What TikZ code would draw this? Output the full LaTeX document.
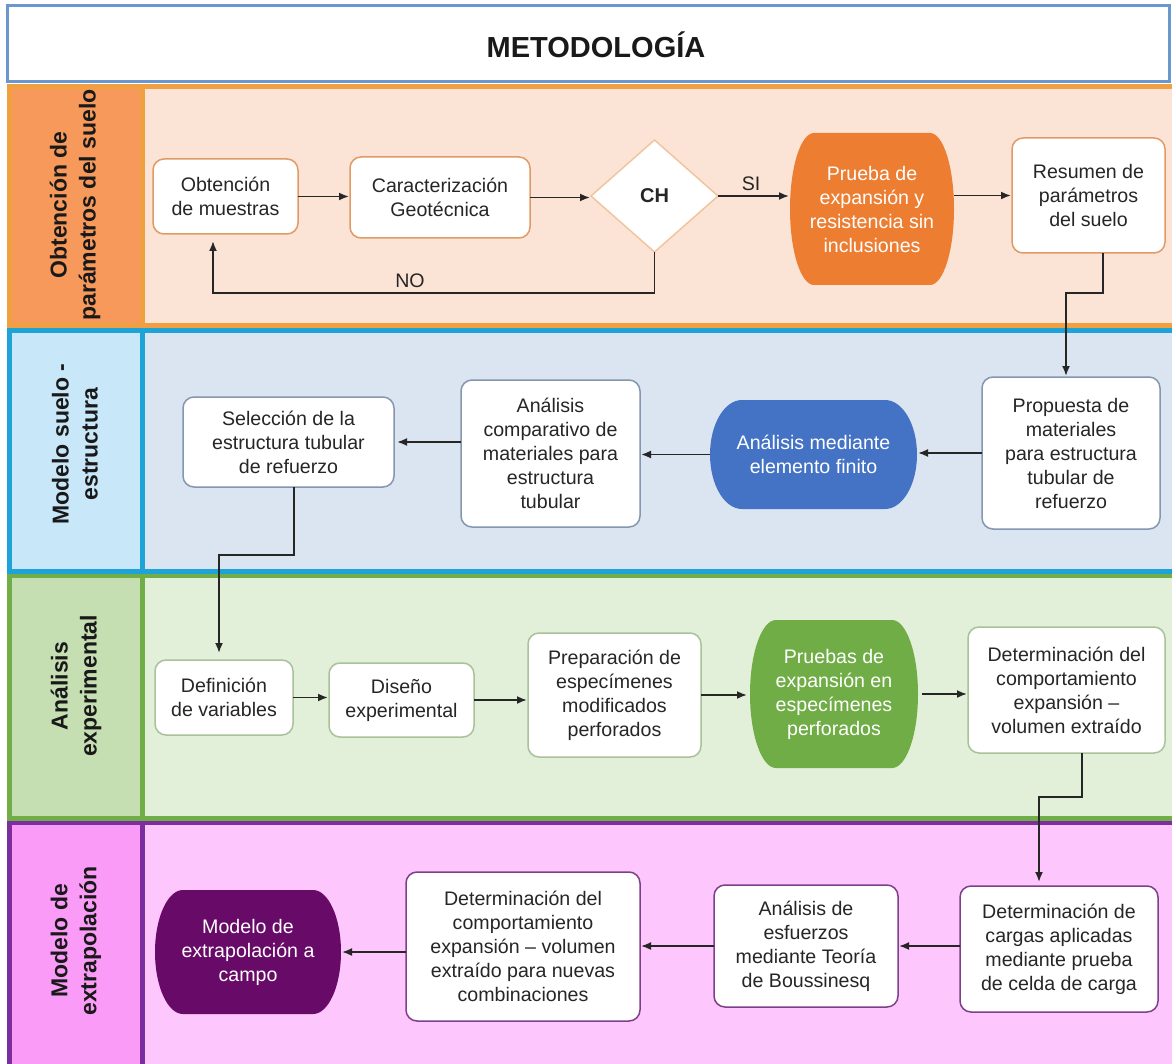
\documentclass[tikz,border=0pt]{standalone}
\usepackage{fontspec}
\setmainfont{Liberation Sans}
\usetikzlibrary{shapes.geometric,arrows.meta,calc}
\pgfdeclarelayer{lanes}
\pgfdeclarelayer{background}
\pgfsetlayers{lanes,background,main}
\definecolor{hdr}{HTML}{6A97CC}
\definecolor{oBord}{HTML}{F0A040}
\definecolor{oLbl}{HTML}{F8995C}
\definecolor{oBg}{HTML}{FBE4D5}
\definecolor{bBord}{HTML}{1EA3D8}
\definecolor{bLbl}{HTML}{C8E7F8}
\definecolor{bBg}{HTML}{DBE5F1}
\definecolor{gBord}{HTML}{72AE47}
\definecolor{gLbl}{HTML}{C5DFB3}
\definecolor{gBg}{HTML}{E2EFD9}
\definecolor{pBord}{HTML}{7C2E9E}
\definecolor{pLbl}{HTML}{F99BF7}
\definecolor{pBg}{HTML}{FDC6FC}
\definecolor{oNode}{HTML}{ED7D31}
\definecolor{bNode}{HTML}{4472C4}
\definecolor{gNode}{HTML}{70AD47}
\definecolor{pNode}{HTML}{680A68}
\definecolor{oEdge}{HTML}{E09A66}
\definecolor{dEdge}{HTML}{F2C4A0}
\definecolor{bEdge}{HTML}{8496B0}
\definecolor{gEdge}{HTML}{A9C29A}
\definecolor{pEdge}{HTML}{7E3F8A}
\definecolor{bodytxt}{HTML}{262626}
\newcommand\mylane[5]{%
  \fill[#5] (9,#1) rectangle (1180,#2);
  \fill[#4] (9,#1) rectangle (142.5,#2);
  \draw[#3,line width=5pt] (9,#1) rectangle (1180,#2);
  \draw[#3,line width=5pt] (142.5,#1) -- (142.5,#2);
}
\newcommand\barrelfill[3]{%
  \begin{pgfonlayer}{background}
  \fill[#2] let \p1=(#1.north west), \p2=(#1.south east), \n1={(\y1-\y2)/2} in
    (\x1+#3pt,\y1) -- (\x2-#3pt,\y1)
    arc[start angle=90,end angle=-90,x radius=#3pt,y radius=\n1]
    -- (\x1+#3pt,\y2)
    arc[start angle=270,end angle=90,x radius=#3pt,y radius=\n1] -- cycle;
  \end{pgfonlayer}}
\begin{document}
\begin{tikzpicture}[x=1pt,y=-1pt,
  txt/.style={font=\fontsize{19.6}{24}\selectfont, align=center, inner sep=0pt, outer sep=0pt},
  wbox/.style={txt, rectangle, rounded corners=11pt, fill=white, line width=1.5pt, text=bodytxt},
  cbox/.style={txt, rectangle, text=white},
  lanelbl/.style={font=\fontsize{23}{29}\selectfont\bfseries, align=center, rotate=90, text=black!90, inner sep=0pt},
  arr/.style={-{Latex[length=10pt,width=8pt]}, line width=1.8pt, draw=black!85, shorten >=1pt},
  lbl/.style={font=\fontsize{19.6}{24}\selectfont, text=bodytxt, inner sep=0pt},
]
\useasboundingbox (0,0) rectangle (1172,1064);
\clip (0,0) rectangle (1172,1064);
\begin{pgfonlayer}{lanes}
\fill[white] (0,0) rectangle (1172,1064);
\mylane{822}{1075}{pBord}{pLbl}{pBg}
\mylane{575.5}{818}{gBord}{gLbl}{gBg}
\mylane{331}{571}{bBord}{bLbl}{bBg}
\mylane{86.5}{326}{oBord}{oLbl}{oBg}
\draw[hdr,line width=3pt,fill=white] (7,5.5) rectangle (1169.5,81.5);
\end{pgfonlayer}

% title and lane labels
\node[font=\fontsize{29}{34}\selectfont\bfseries, text=black!90] (title) at (596,45) {METODOLOGÍA};
\node[lanelbl] (L1) at (75,205) {Obtención de\\parámetros del suelo};
\node[lanelbl] (L2) at (75,444) {Modelo suelo -\\estructura};
\node[lanelbl] (L3) at (76,686) {Análisis\\experimental};
\node[lanelbl] (L4) at (76,941) {Modelo de\\extrapolación};

% lane 1
\node[wbox, draw=oEdge, minimum width=145pt, minimum height=75pt] (n1) at (225.5,196.5) {Obtención\\de muestras};
\node[wbox, draw=oEdge, minimum width=180pt, minimum height=81pt] (n2) at (440,197.5) {Caracterización\\Geotécnica};
\node[diamond, draw=dEdge, fill=white, line width=1.5pt, minimum width=127pt, minimum height=112pt, inner sep=0pt, outer sep=0pt,
  font=\fontsize{20}{24}\selectfont\bfseries, text=bodytxt] (ch) at (654.5,196) {CH};
\node[cbox, minimum width=164pt, minimum height=152pt] (pr) at (872,209) {Prueba de\\expansión y\\resistencia sin\\inclusiones};
\barrelfill{pr}{oNode}{24}
\node[wbox, draw=oEdge, minimum width=153pt, minimum height=115pt] (n4) at (1088.5,195.5) {Resumen de\\parámetros\\del suelo};

% lane 2
\node[wbox, draw=bEdge, minimum width=211pt, minimum height=90pt] (s1) at (288.5,442) {Selección de la\\estructura tubular\\de refuerzo};
\node[wbox, draw=bEdge, minimum width=179pt, minimum height=147pt] (s2) at (550.5,453.5) {Análisis\\comparativo de\\materiales para\\estructura\\tubular};
\node[cbox, minimum width=207pt, minimum height=109pt] (s3) at (813.5,454.5) {Análisis mediante\\elemento finito};
\barrelfill{s3}{bNode}{32}
\node[wbox, draw=bEdge, minimum width=178pt, minimum height=152pt] (s4) at (1071,453) {Propuesta de\\materiales\\para estructura\\tubular de\\refuerzo};

% lane 3
\node[wbox, draw=gEdge, minimum width=138pt, minimum height=75pt] (e1) at (224,697.5) {Definición\\de variables};
\node[wbox, draw=gEdge, minimum width=145pt, minimum height=74pt] (e2) at (401.5,700) {Diseño\\experimental};
\node[wbox, draw=gEdge, minimum width=173pt, minimum height=124pt] (e3) at (614.5,695) {Preparación de\\especímenes\\modificados\\perforados};
\node[cbox, minimum width=168pt, minimum height=148pt] (e4) at (834,694) {Pruebas de\\expansión en\\especímenes\\perforados};
\barrelfill{e4}{gNode}{26}
\node[wbox, draw=gEdge, minimum width=197pt, minimum height=126pt] (e5) at (1066.5,690) {Determinación del\\comportamiento\\expansión –\\volumen extraído};

% lane 4
\node[cbox, minimum width=186pt, minimum height=124pt] (m1) at (248,952) {Modelo de\\extrapolación a\\campo};
\barrelfill{m1}{pNode}{28}
\node[wbox, draw=pEdge, minimum width=234pt, minimum height=149pt] (m2) at (523,946.5) {Determinación del\\comportamiento\\expansión – volumen\\extraído para nuevas\\combinaciones};
\node[wbox, draw=pEdge, minimum width=184pt, minimum height=122pt] (m3) at (806,946) {Análisis de\\esfuerzos\\mediante Teoría\\de Boussinesq};
\node[wbox, draw=pEdge, minimum width=198pt, minimum height=126pt] (m4) at (1059,949) {Determinación de\\cargas aplicadas\\mediante prueba\\de celda de carga};

% connectors lane 1
\draw[arr] (n1.east) -- (n1.east -| n2.west);
\draw[arr] (n2.east) -- (n2.east -| ch.west);
\draw[arr] (ch.east) -- (ch.east -| pr.west);
\node[lbl] (si) at (751,184) {SI};
\draw[arr] (n4.west -| pr.east) -- (n4.west);
\coordinate (noc) at ($(ch.south)+(0,41)$);
\draw[arr, shorten >=7pt] (ch.south) -- (noc) -| ([xshift=-12.5pt]n1.south);
\node[lbl] (no) at (410,281) {NO};
\coordinate (c1) at ($([xshift=14.5pt]n4.south)+(0,40)$);
\draw[arr] ([xshift=14.5pt]n4.south) -- (c1) -| ([xshift=-5pt]s4.north);

% connectors lane 2
\draw[arr] (s4.west) -- (s4.west -| s3.east);
\draw[arr] (s3.west) -- (s3.west -| s2.east);
\draw[arr, shorten >=3pt] (s1.east -| s2.west) -- (s1.east);
\coordinate (c2) at ($([xshift=5.5pt]s1.south)+(0,68)$);
\draw[arr, shorten >=7pt] ([xshift=5.5pt]s1.south) -- (c2) -| ([xshift=-5pt]e1.north);

% connectors lane 3
\draw[arr] (e1.east) -- (e1.east -| e2.west);
\draw[arr] (e2.east) -- (e2.east -| e3.west);
\draw[arr, shorten >=3pt] (e3.east) -- (e3.east -| e4.west);
\draw[arr] ([xshift=4pt]e4.east) -- (e4.east -| e5.west);
\coordinate (c3) at ($([xshift=15.5pt]e5.south)+(0,44)$);
\draw[arr, shorten >=4pt] ([xshift=15.5pt]e5.south) -- (c3) -| ([xshift=-20pt]m4.north);

% connectors lane 4
\draw[arr] (m3.east -| m4.west) -- (m3.east);
\draw[arr] (m3.west) -- (m3.west -| m2.east);
\draw[arr] (m1.east -| m2.west) -- (m1.east);
\end{tikzpicture}
\end{document}
